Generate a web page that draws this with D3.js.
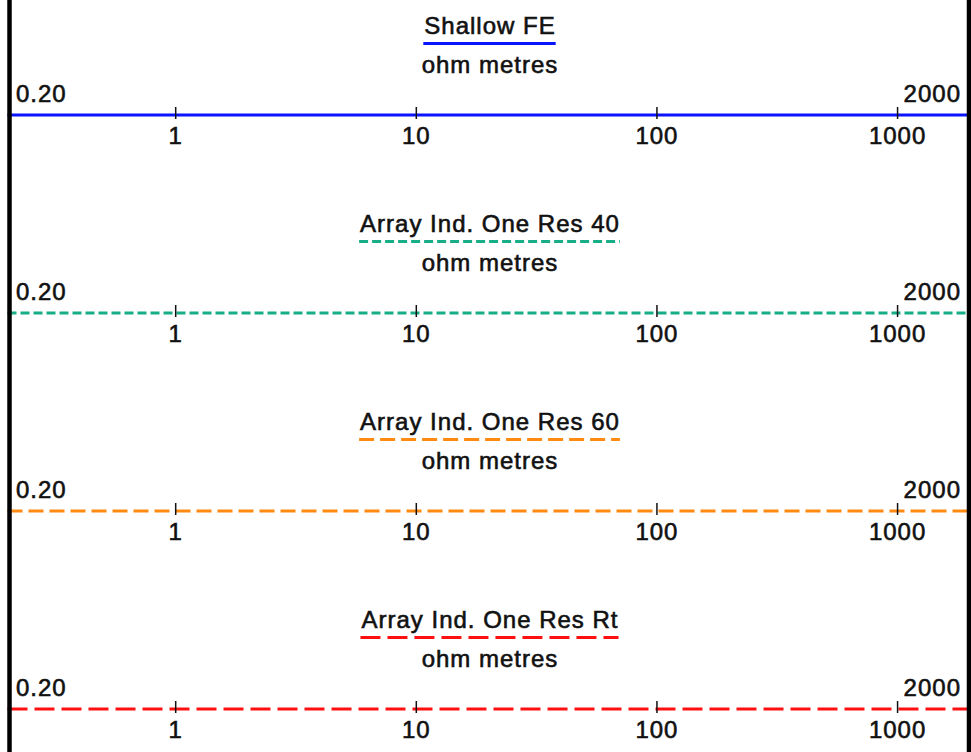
<!DOCTYPE html>
<html>
<head>
<meta charset="utf-8">
<script src="https://cdn.jsdelivr.net/npm/d3@7"></script>
<style>
  body { margin: 0; background: #fff; }
  text { font-family: "Liberation Sans", Arial, sans-serif; font-size: 24px; fill: #111; stroke: #111; stroke-width: 0.6px; letter-spacing: 1px; }
</style>
</head>
<body>
<div id="header"></div>
<script>
// track header data
var curveNames = ["Shallow FE", "Array Ind. One Res 40", "Array Ind. One Res 60", "Array Ind. One Res Rt"];
var curveUnits = ["ohm metres", "ohm metres", "ohm metres", "ohm metres"];
var curveColors = ["#0a14ff", "#17ad86", "#ff8a12", "#ff1010"];
var curveDashes = [null, "9,4", "15,6", "20,7"];
var scaleLeft = [0.2, 0.2, 0.2, 0.2];
var scaleRight = [2000, 2000, 2000, 2000];
var leftLabels = ["0.20", "0.20", "0.20", "0.20"];
var rightLabels = ["2000", "2000", "2000", "2000"];
var tickValues = [1, 10, 100, 1000];

var width = 971
var height = 752
var panelH = 198

var svg = d3.select("#header")
  .append("svg")
  .attr("width", width)
  .attr("height", height)

var panels = svg.selectAll("g.panel")
  .data(curveNames)
  .enter()
  .append("g")
  .attr("class", "panel")
  .attr("transform", function(d, i) { return "translate(0," + (i * panelH) + ")" })

panels.each(function(name, i) {
  var g = d3.select(this)
  var x = d3.scaleLog()
    .domain([scaleLeft[i], scaleRight[i]])
    .range([7.5, 970])

  // curve name + underline in the curve's style
  var title = g.append("text")
    .attr("x", 490)
    .attr("y", 34)
    .attr("text-anchor", "middle")
    .text(name)
  var bb = title.node().getBBox()
  g.append("line")
    .attr("x1", bb.x - 1)
    .attr("x2", bb.x + bb.width)
    .attr("y1", 43.5)
    .attr("y2", 43.5)
    .attr("stroke", curveColors[i])
    .attr("stroke-width", 3)
    .attr("stroke-dasharray", curveDashes[i])

  g.append("text")
    .attr("x", 490)
    .attr("y", 73)
    .attr("text-anchor", "middle")
    .text(curveUnits[i])

  // scale end labels
  g.append("text")
    .attr("x", 16)
    .attr("y", 102)
    .text(leftLabels[i])
  g.append("text")
    .attr("x", 961)
    .attr("y", 102)
    .attr("text-anchor", "end")
    .text(rightLabels[i])

  // curve line
  g.append("line")
    .attr("x1", x(scaleLeft[i]))
    .attr("x2", x(scaleRight[i]))
    .attr("y1", 115)
    .attr("y2", 115)
    .attr("stroke", curveColors[i])
    .attr("stroke-width", 3)
    .attr("stroke-dasharray", curveDashes[i])

  // decade ticks
  var ticks = g.selectAll("g.tick")
    .data(tickValues)
    .enter()
    .append("g")
    .attr("class", "tick")
    .attr("transform", function(d) { return "translate(" + x(d) + ",0)" })
  ticks.append("line")
    .attr("y1", 107)
    .attr("y2", 119)
    .attr("stroke", "#111")
    .attr("stroke-width", 1.5)
  ticks.append("text")
    .attr("y", 144)
    .attr("text-anchor", "middle")
    .text(function(d) { return d })
})

// track borders
svg.append("line")
  .attr("x1", 9.5).attr("x2", 9.5)
  .attr("y1", 0).attr("y2", height)
  .attr("stroke", "#000")
  .attr("stroke-width", 4.5)
svg.append("line")
  .attr("x1", 969).attr("x2", 969)
  .attr("y1", 0).attr("y2", height)
  .attr("stroke", "#000")
  .attr("stroke-width", 4.5)
</script>
</body>
</html>
